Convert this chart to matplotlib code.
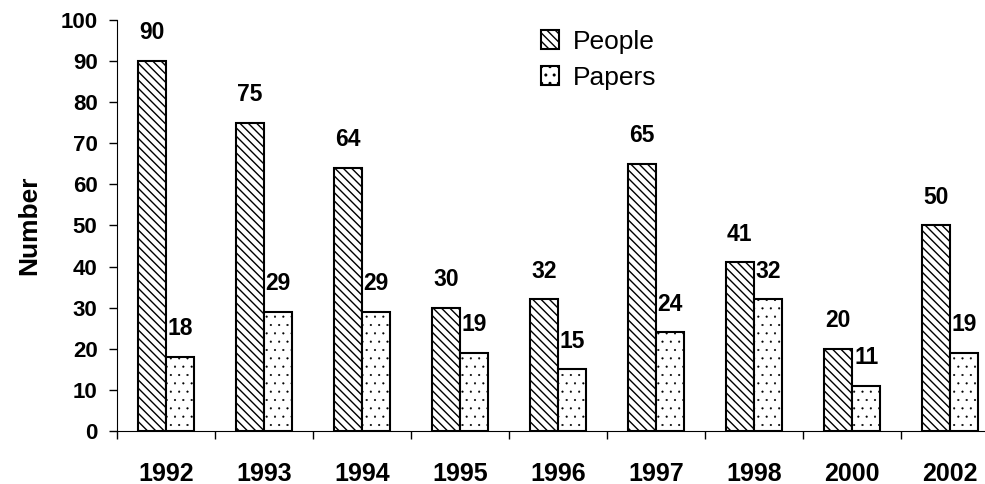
import numpy as np
from matplotlib import pyplot as plt
from matplotlib.ticker import FixedLocator

plt.rcParams['font.family'] = ['Liberation Sans', 'DejaVu Sans']
plt.rcParams['hatch.linewidth'] = 1.0

years = ['1992', '1993', '1994', '1995', '1996', '1997', '1998', '2000', '2002']
people = [90, 75, 64, 30, 32, 65, 41, 20, 50]
papers = [18, 29, 29, 19, 15, 24, 32, 11, 19]
y_ticks = list(range(0, 101, 10))

fig = plt.figure(figsize=(9.85, 4.84), dpi=100)
# axes runs past the right edge of the picture, like the reference crop
ax = fig.add_axes([117 / 985, 1 - 431 / 484, 882 / 985, 411 / 484])

x = np.arange(len(years))
w = 0.29
b1 = ax.bar(x - w / 2, people, w, color='white', edgecolor='black',
            linewidth=1.5, hatch='\\\\\\\\', label='People')
b2 = ax.bar(x + w / 2, papers, w, color='white', edgecolor='black',
            linewidth=1.5, hatch='..', label='Papers')
for r in b2:
    if hasattr(r, 'set_hatch_linewidth'):
        r.set_hatch_linewidth(0.3)

# value labels above bars
for bars, vals in ((b1, people), (b2, papers)):
    for rect, v in zip(bars, vals):
        ax.annotate(str(v), (rect.get_x() + rect.get_width() / 2, v),
                    xytext=(0, 12), textcoords='offset points',
                    ha='center', va='bottom', fontsize=16.5, fontweight='bold')

ax.set_xlim(-0.5, 8.5)
ax.set_ylim(0, 100)
ax.set_yticks(y_ticks)
ax.set_yticklabels([str(t) for t in y_ticks], fontsize=16, fontweight='bold')
ax.tick_params(axis='y', direction='out', length=6, width=1, pad=8)

ax.set_xticks(x)
ax.set_xticklabels(years, fontsize=18, fontweight='bold')
ax.xaxis.set_minor_locator(FixedLocator(np.arange(-0.5, 9, 1.0)))
ax.tick_params(axis='x', which='major', length=0, pad=22)
ax.tick_params(axis='x', which='minor', direction='out', length=6, width=1)

ax.spines['top'].set_visible(False)
ax.spines['right'].set_visible(False)
ax.set_ylabel('Number', fontsize=19, fontweight='bold', labelpad=14)

fig.legend(handles=[b1, b2], loc='upper left', bbox_to_anchor=(517 / 985, 1 - 6 / 484),
           frameon=False, fontsize=19, handlelength=0.7, handleheight=0.7,
           handletextpad=0.5, labelspacing=0.45)

fig.savefig('out.png', dpi=100)
